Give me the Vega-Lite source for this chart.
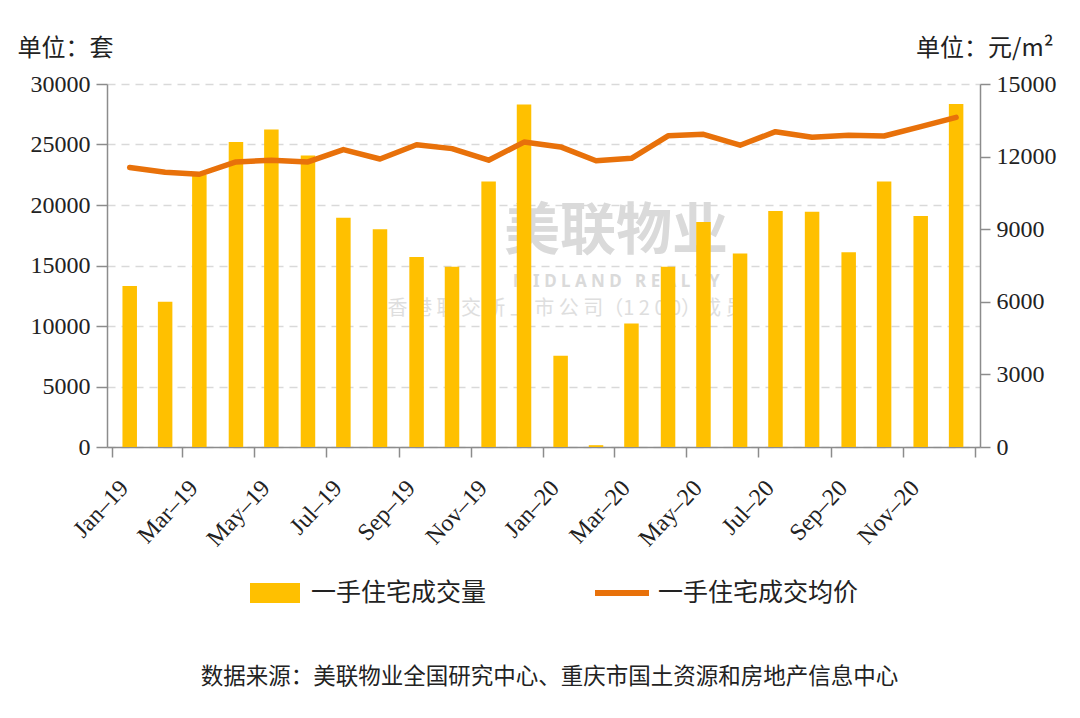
{
  "$schema": "https://vega.github.io/schema/vega-lite/v6.json",
  "width": 873,
  "height": 363,
  "autosize": {"type": "none"},
  "padding": {"left": 107, "top": 84, "right": 100, "bottom": 271},
  "background": "white",
  "config": {"view": {"stroke": null}, "font": "Liberation Serif"},
  "title": {
    "text": "数据来源：美联物业全国研究中心、重庆市国土资源和房地产信息中心",
    "orient": "bottom",
    "anchor": "middle",
    "font": "Noto Sans CJK SC",
    "fontSize": 22.5,
    "fontWeight": "normal",
    "color": "#222222",
    "offset": 60,
    "dx": 6
  },
  "datasets": {
    "watermark": [{"label": "watermark"}]
  },
  "data": {
    "values": [
      {"month": "2019-01-16", "volume": 13300, "price": 11550},
      {"month": "2019-02-15", "volume": 12000, "price": 11350},
      {"month": "2019-03-16", "volume": 22500, "price": 11270},
      {"month": "2019-04-16", "volume": 25200, "price": 11780},
      {"month": "2019-05-16", "volume": 26250, "price": 11850},
      {"month": "2019-06-16", "volume": 24100, "price": 11780},
      {"month": "2019-07-16", "volume": 18950, "price": 12290},
      {"month": "2019-08-16", "volume": 18000, "price": 11900},
      {"month": "2019-09-16", "volume": 15700, "price": 12490},
      {"month": "2019-10-16", "volume": 14900, "price": 12330},
      {"month": "2019-11-16", "volume": 21950, "price": 11850},
      {"month": "2019-12-16", "volume": 28300, "price": 12600},
      {"month": "2020-01-16", "volume": 7550, "price": 12400},
      {"month": "2020-02-15", "volume": 150, "price": 11830},
      {"month": "2020-03-16", "volume": 10200, "price": 11930},
      {"month": "2020-04-16", "volume": 14900, "price": 12860},
      {"month": "2020-05-16", "volume": 18600, "price": 12920},
      {"month": "2020-06-16", "volume": 16000, "price": 12470},
      {"month": "2020-07-16", "volume": 19500, "price": 13030},
      {"month": "2020-08-16", "volume": 19450, "price": 12800},
      {"month": "2020-09-16", "volume": 16100, "price": 12880},
      {"month": "2020-10-16", "volume": 21950, "price": 12850},
      {"month": "2020-11-16", "volume": 19100, "price": 13240},
      {"month": "2020-12-16", "volume": 28350, "price": 13620}
    ]
  },
  "layer": [
    {
      "layer": [
        {
          "data": {"name": "watermark"},
          "mark": {"type": "text", "text": "美联物业", "font": "Noto Sans CJK SC", "fontWeight": "bold", "fontSize": 56, "color": "#dadada", "align": "center", "baseline": "middle"},
          "encoding": {
            "x": {"datum": {"year": 2020, "month": 3, "date": 3, "utc": true}, "type": "temporal"},
            "y": {"datum": 17800, "type": "quantitative"}
          }
        },
        {
          "data": {"name": "watermark"},
          "mark": {"type": "text", "text": "M I D L A N D\u00a0\u00a0\u00a0R E A L T Y", "font": "Noto Sans", "fontWeight": "bold", "fontSize": 17, "color": "#dadada", "align": "center", "baseline": "middle"},
          "encoding": {
            "x": {"datum": {"year": 2020, "month": 3, "date": 3, "utc": true}, "type": "temporal"},
            "y": {"datum": 13600, "type": "quantitative"}
          }
        },
        {
          "data": {"name": "watermark"},
          "mark": {"type": "text", "text": "香 港 联 交 所 上 市 公 司（1 2 0 0）成 员", "font": "Noto Sans CJK SC", "fontSize": 20, "color": "#dedede", "align": "center", "baseline": "middle"},
          "encoding": {
            "x": {"datum": {"year": 2020, "month": 1, "date": 21, "utc": true}, "type": "temporal"},
            "y": {"datum": 11400, "type": "quantitative"}
          }
        },
        {
          "mark": {"type": "bar", "width": 14.5},
          "encoding": {
            "x": {
              "field": "month",
              "type": "temporal",
              "title": null,
              "scale": {"type": "utc", "domain": [{"year": 2019, "month": 1, "date": 1, "utc": true}, {"year": 2021, "month": 1, "date": 1, "utc": true}]},
              "axis": {
                "format": "%b-%y",
                "tickCount": {"interval": "month", "step": 2},
                "labelExpr": "utcyear(datum.value) == 2021 ? '' : replace(datum.label, '-', '–')",
                "labelAngle": -47,
                "labelAlign": "right",
                "labelBaseline": "middle",
                "labelFont": "Liberation Serif",
                "labelFontSize": 24,
                "labelColor": "#222222",
                "labelPadding": 27,
                "labelOffset": 12,
                "labelOverlap": false,
                "labelBound": false,
                "labelFlush": false,
                "tickSize": 10,
                "tickColor": "#8c8c8c",
                "tickWidth": 1.5,
                "domainColor": "#8c8c8c",
                "domainWidth": 1.5,
                "grid": false
              }
            },
            "y": {
              "field": "volume",
              "type": "quantitative",
              "scale": {"domain": [0, 30000], "nice": false},
              "axis": {
                "title": "单位：套",
                "titleAngle": 0,
                "titleX": -90,
                "titleY": -36,
                "titleAlign": "left",
                "titleBaseline": "middle",
                "titleFont": "Noto Sans CJK SC",
                "titleFontSize": 24,
                "titleFontWeight": "normal",
                "titleColor": "#222222",
                "values": [0, 5000, 10000, 15000, 20000, 25000, 30000],
                "format": "d",
                "labelFont": "Liberation Serif",
                "labelFontSize": 24,
                "labelColor": "#222222",
                "labelPadding": 6,
                "tickSize": 11,
                "tickColor": "#8c8c8c",
                "tickWidth": 1.5,
                "domainColor": "#8c8c8c",
                "domainWidth": 1.5,
                "grid": true,
                "gridColor": "#d9d9d9",
                "gridDash": [8, 6],
                "gridWidth": 1.5
              }
            },
            "color": {
              "datum": "一手住宅成交量",
              "type": "nominal",
              "scale": {"domain": ["一手住宅成交量", "一手住宅成交均价"], "range": ["#FFC000", "#E8710A"]},
              "legend": {
                "orient": "none",
                "legendX": 143,
                "legendY": 484,
                "direction": "horizontal",
                "title": null,
                "labelFont": "Noto Sans CJK SC",
                "labelFontSize": 25,
                "labelColor": "#222222",
                "labelLimit": 0,
                "labelOffset": 11,
                "symbolSize": 2500,
                "columnPadding": 108,
                "encode": {
                  "symbols": {
                    "update": {
                      "shape": {"signal": "datum.value === '一手住宅成交量' ? 'M-1,-0.4H1V0.4H-1Z' : 'M-1.08,-0.12H1.08V0.12H-1.08Z'"},
                      "fill": {"signal": "datum.value === '一手住宅成交量' ? '#FFC000' : '#E8710A'"},
                      "stroke": {"value": "transparent"},
                      "strokeWidth": {"value": 0},
                      "opacity": {"value": 1}
                    }
                  }
                }
              }
            }
          }
        }
      ]
    },
    {
      "mark": {"type": "line", "strokeWidth": 5.5, "strokeCap": "round", "strokeJoin": "round"},
      "encoding": {
        "x": {"field": "month", "type": "temporal", "title": null},
        "y": {
          "field": "price",
          "type": "quantitative",
          "scale": {"domain": [0, 15000], "nice": false},
          "axis": {
            "orient": "right",
            "title": "单位：元/m²",
            "titleAngle": 0,
            "titleX": 73,
            "titleY": -36,
            "titleAlign": "right",
            "titleBaseline": "middle",
            "titleFont": "Noto Sans CJK SC",
            "titleFontSize": 24,
            "titleFontWeight": "normal",
            "titleColor": "#222222",
            "values": [0, 3000, 6000, 9000, 12000, 15000],
            "format": "d",
            "labelFont": "Liberation Serif",
            "labelFontSize": 24,
            "labelColor": "#222222",
            "labelPadding": 6,
            "tickSize": 10,
            "tickColor": "#8c8c8c",
            "tickWidth": 1.5,
            "domainColor": "#8c8c8c",
            "domainWidth": 1.5,
            "grid": false
          }
        },
        "color": {"datum": "一手住宅成交均价", "type": "nominal"}
      }
    }
  ],
  "resolve": {"scale": {"y": "independent"}}
}
